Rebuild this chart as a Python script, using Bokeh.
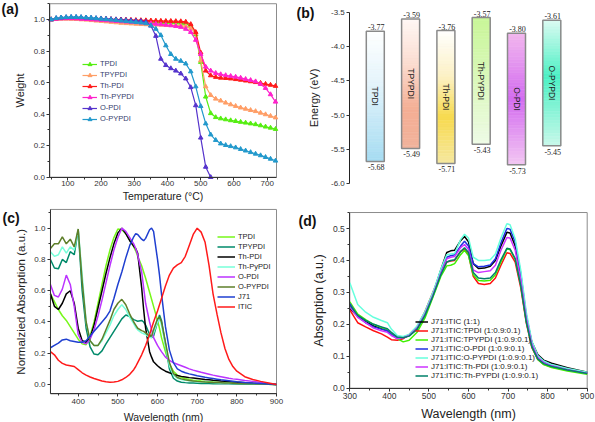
import math
from bokeh.plotting import figure
from bokeh.models import (ColumnDataSource, Legend, LegendItem, LabelSet,
                          SingleIntervalTicker, Range1d, PrintfTickFormatter)
from bokeh.layouts import row, column
from bokeh.embed import file_html
from bokeh.resources import INLINE
from bokeh.core.properties import value

FONT = "Liberation Sans"

# ---------------- (a) TGA data ----------------
tga_temp = [50, 65, 80, 95, 110, 125, 140, 155, 170, 185, 200, 215, 230, 245, 260, 275, 290, 305, 320, 335,
            350, 365, 380, 395, 410, 425, 440, 455, 470, 485, 500, 515, 530, 545, 560, 575, 590, 605, 620, 635,
            650, 665, 680, 695, 710, 725]
tga_names = ["TPDI", "TPYPDI", "Th-PDI", "Th-PYPDI", "O-PDI", "O-PYPDI"]
w_tpdi = [1.000, 1.005, 1.008, 1.010, 1.010, 1.010, 1.010, 1.008, 1.006, 1.005,
          1.003, 1.001, 1.000, 0.998, 0.996, 0.994, 0.992, 0.990, 0.988, 0.986,
          0.985, 0.984, 0.983, 0.982, 0.981, 0.980, 0.978, 0.975, 0.960, 0.905,
          0.730, 0.510, 0.405, 0.380, 0.372, 0.366, 0.360, 0.355, 0.350, 0.345,
          0.340, 0.335, 0.328, 0.320, 0.313, 0.305]
w_tpypdi = [1.000, 1.003, 1.004, 1.004, 1.003, 1.002, 1.000, 0.998, 0.995, 0.992,
            0.990, 0.987, 0.984, 0.981, 0.978, 0.976, 0.974, 0.972, 0.970, 0.969,
            0.968, 0.967, 0.966, 0.965, 0.964, 0.963, 0.962, 0.958, 0.945, 0.915,
            0.740, 0.575, 0.520, 0.497, 0.485, 0.472, 0.461, 0.451, 0.441, 0.433,
            0.425, 0.418, 0.408, 0.398, 0.388, 0.378]
w_thpdi = [1.000, 1.005, 1.008, 1.009, 1.009, 1.008, 1.007, 1.006, 1.005, 1.004,
           1.003, 1.002, 1.001, 1.000, 0.999, 0.998, 0.997, 0.996, 0.995, 0.994,
           0.993, 0.992, 0.991, 0.990, 0.990, 0.989, 0.988, 0.985, 0.970, 0.920,
           0.790, 0.675, 0.645, 0.635, 0.630, 0.628, 0.625, 0.621, 0.617, 0.612,
           0.607, 0.602, 0.597, 0.591, 0.585, 0.578]
w_thpypdi = [1.000, 1.004, 1.006, 1.007, 1.007, 1.006, 1.004, 1.002, 1.000, 0.998,
             0.996, 0.994, 0.992, 0.990, 0.988, 0.986, 0.984, 0.982, 0.980, 0.978,
             0.975, 0.972, 0.969, 0.966, 0.962, 0.958, 0.952, 0.940, 0.920, 0.870,
             0.780, 0.700, 0.675, 0.660, 0.652, 0.646, 0.641, 0.636, 0.630, 0.622,
             0.615, 0.607, 0.590, 0.565, 0.525, 0.478]
w_opdi = [1.000, 1.008, 1.012, 1.014, 1.015, 1.015, 1.014, 1.012, 1.010, 1.008,
          1.006, 1.004, 1.002, 1.000, 0.998, 0.996, 0.994, 0.992, 0.990, 0.985,
          0.960, 0.895, 0.750, 0.710, 0.690, 0.675, 0.657, 0.625, 0.570, 0.455,
          0.250, 0.065, 0.000]
w_opypdi = [1.000, 1.008, 1.012, 1.014, 1.015, 1.015, 1.014, 1.012, 1.010, 1.007,
            1.004, 1.001, 0.998, 0.995, 0.992, 0.989, 0.986, 0.983, 0.980, 0.975,
            0.962, 0.940, 0.900, 0.835, 0.780, 0.750, 0.737, 0.720, 0.670, 0.575,
            0.450, 0.340, 0.270, 0.235, 0.213, 0.203, 0.196, 0.188, 0.178, 0.168,
            0.158, 0.148, 0.138, 0.127, 0.116, 0.104]
tga_series = [w_tpdi, w_tpypdi, w_thpdi, w_thpypdi, w_opdi, w_opypdi]
tga_colors = ["#55ee11", "#ff9e66", "#ff1a1a", "#ff22cc", "#5533cc", "#2299cc"]

# ---------------- (b) energy levels ----------------
acc_names = ["TPDI", "TPYPDI", "Th-PDI", "Th-PYPDI", "O-PDI", "O-PYPDI"]
lumo = [-3.77, -3.59, -3.76, -3.57, -3.80, -3.61]
homo = [-5.68, -5.49, -5.71, -5.43, -5.73, -5.45]
bar_grad = [
    [(0.0, "#ffffff"), (0.4, "#e4f4fb"), (1.0, "#a6dcf2")],
    [(0.0, "#fff8f5"), (0.35, "#fbdcd0"), (0.7, "#f4ae94"), (1.0, "#f1b39c")],
    [(0.0, "#ffffff"), (0.35, "#fcf1c4"), (0.65, "#f7da4e"), (1.0, "#f6e8a0")],
    [(0.0, "#c9f698"), (0.5, "#daf8bc"), (1.0, "#effbe6")],
    [(0.0, "#f2b8ee"), (0.5, "#d36cf0"), (1.0, "#f2c6f2")],
    [(0.0, "#dcfbf2"), (0.45, "#4cf0c4"), (1.0, "#c8f8ea")],
]

# ---------------- (c) normalized absorption ----------------
spec_wl = [330, 340, 350, 360, 370, 380, 390, 400, 410, 420, 430, 440, 450, 460, 470, 480, 490, 500, 510, 520,
           530, 540, 545, 550, 560, 565, 570, 580, 585, 590, 600, 605, 610, 620, 630, 640, 650, 660, 670, 680,
           690, 700, 710, 720, 730, 740, 750, 760, 770, 780, 790, 800, 820, 840, 860, 880, 900]
spec_names = ["TPDI", "TPYPDI", "Th-PDI", "Th-PyPDI", "O-PDI", "O-PYPDI", "J71", "ITIC"]
s_tpdi = [.58, .53, .48, .44, .41, .37, .33, .29, .26, .255,
          .31, .40, .52, .64, .76, .86, .94, .995, .99, .965, .925, .88,
          .855, .82, .76, .72, .68, .59, .545, .50, .41, .36, .30,
          .21, .13, .085, .06, .045, .038, .032, .028, .025, .022, .02, .018, .016, .015, .013, .012, .011, .010, .009,
          .007, .005, .004, .002, .0]
s_tpypdi = [.80, .745, .74, .80, .78, .85, .83, .99, .60, .36,
            .24, .195, .19, .215, .26, .30, .34, .38, .42, .445, .435, .415,
            .41, .405, .41, .40, .38, .32, .30, .31, .40, .445, .41,
            .26, .10, .04, .022, .015, .012, .010, .009, .008, .007, .006, .006, .005, .005, .004, .004, .004, .003, .003,
            .002, .002, .001, .001, .0]
s_thpdi = [.58, .50, .48, .52, .58, .60, .52, .36, .28, .27,
           .30, .38, .49, .60, .71, .81, .90, .97, 1.0, .965, .92, .885,
           .87, .84, .62, .48, .36, .21, .175, .145, .12, .11, .10,
           .085, .075, .066, .058, .052, .048, .044, .041, .038, .035, .032, .03, .027, .025, .022, .02, .018, .016, .015,
           .011, .008, .005, .003, .0]
s_thpypdi = [.85, .82, .83, .88, .84, .88, .86, .99, .70, .40,
             .28, .25, .25, .28, .33, .38, .44, .48, .51, .48, .43, .39,
             .365, .35, .33, .325, .32, .30, .30, .33, .40, .42, .38,
             .25, .12, .06, .04, .032, .027, .024, .021, .019, .017, .015, .014, .012, .011, .010, .009, .008, .007, .006,
             .005, .004, .003, .002, .0]
s_opdi = [.64, .57, .56, .61, .70, .64, .50, .32, .27, .26,
          .29, .35, .44, .54, .65, .76, .86, .94, 1.0, .98, .94, .90,
          .87, .83, .72, .62, .52, .40, .35, .30, .25, .23, .21,
          .175, .155, .14, .13, .12, .11, .10, .092, .085, .078, .072, .066, .06, .055, .05, .045, .04, .036, .033,
          .026, .02, .013, .007, .0]
s_opypdi = [.87, .90, .90, .945, .90, .93, .88, .995, .66, .40,
            .28, .25, .25, .29, .35, .41, .48, .52, .545, .51, .45, .40,
            .38, .36, .345, .34, .33, .31, .31, .35, .42, .43, .40,
            .27, .14, .07, .045, .036, .03, .026, .023, .02, .018, .016, .015, .013, .012, .011, .01, .009, .008, .007,
            .005, .004, .003, .002, .0]
s_j71 = [.235, .25, .265, .285, .29, .28, .275, .27, .27, .28,
         .31, .34, .37, .40, .43, .47, .55, .64, .72, .81, .89, .945,
         .965, .96, .93, .92, .935, .99, 1.0, .98, .80, .70, .58,
         .37, .22, .14, .10, .085, .075, .068, .062, .056, .051, .046, .042, .038, .034, .03, .027, .024, .021, .018,
         .013, .009, .006, .003, .0]
s_itic = [.21, .19, .155, .135, .125, .12, .115, .095, .075, .06,
          .048, .038, .03, .022, .017, .015, .016, .02, .03, .045, .065, .095,
          .115, .14, .19, .22, .25, .32, .36, .40, .47, .51, .55,
          .63, .70, .745, .765, .78, .82, .89, .96, 1.0, .975, .91, .76, .58, .45, .33, .23, .16, .115, .085,
          .05, .032, .02, .01, .0]
spec_series = [s_tpdi, s_tpypdi, s_thpdi, s_thpypdi, s_opdi, s_opypdi, s_j71, s_itic]
spec_colors = ["#77f71a", "#008a6a", "#000000", "#77ffd9", "#bb33ff", "#5e7f2a", "#1f3fd0", "#ff1a1a"]

# ---------------- (d) blend absorption ----------------
abs_wl = [300, 320, 340, 360, 380, 395, 405, 420, 435, 450, 470, 490, 510, 530, 545, 555, 565, 580, 590, 600,
          612, 625, 640, 655, 668, 682, 697, 705, 718, 732, 746, 760, 775, 790, 810, 850, 900]
blend_names = ["J71:ITIC (1:1)", "J71:ITIC:TPDI (1:0.9:0.1)", "J71:ITIC:TPYPDI (1:0.9:0.1)",
               "J71:ITIC:O-PDI (1:0.9:0.1)", "J71:ITIC:O-PYPDI (1:0.9:0.1)",
               "J71:ITIC:Th-PDI (1:0.9:0.1)", "J71:ITIC:Th-PYPDI (1:0.9:0.1)"]
a_ref = [.250, .225, .208, .195, .186, .180, .168, .156, .158, .165, .185, .230, .295, .370, .425, .430, .432, .462, .475, .458,
         .390, .375, .376, .382, .400, .445, .488, .486, .445, .350, .225, .145, .105, .088, .078, .064, .050]
a_tpdi = [.245, .205, .192, .180, .170, .160, .152, .150, .155, .168, .192, .240, .300, .360, .395, .398, .400, .428, .435, .418,
          .350, .328, .325, .328, .345, .385, .424, .422, .395, .315, .205, .128, .090, .075, .066, .056, .046]
a_tpypdi = [.270, .232, .215, .200, .190, .182, .170, .155, .145, .150, .175, .220, .285, .350, .383, .385, .390, .418, .432, .415,
            .355, .337, .336, .338, .355, .395, .436, .434, .405, .325, .210, .130, .090, .074, .065, .054, .044]
a_opdi = [.265, .225, .205, .192, .185, .180, .168, .158, .160, .167, .190, .235, .295, .365, .410, .415, .418, .445, .460, .445,
          .390, .380, .382, .386, .405, .455, .500, .498, .458, .360, .230, .142, .100, .082, .072, .060, .048]
a_opypdi = [.330, .262, .238, .222, .212, .205, .185, .165, .162, .168, .195, .240, .300, .372, .418, .420, .422, .465, .482, .470,
            .410, .400, .400, .402, .420, .470, .515, .512, .468, .370, .238, .148, .102, .085, .074, .062, .050]
a_thpdi = [.255, .222, .205, .188, .180, .175, .165, .155, .158, .165, .188, .232, .292, .360, .405, .410, .412, .440, .450, .435,
           .370, .362, .365, .368, .385, .432, .472, .470, .432, .340, .220, .138, .097, .080, .070, .058, .047]
a_thpypdi = [.260, .228, .212, .200, .192, .186, .175, .160, .158, .163, .185, .228, .288, .355, .395, .400, .402, .428, .440, .425,
             .362, .345, .343, .345, .362, .402, .438, .436, .405, .322, .208, .130, .092, .077, .068, .057, .046]
blend_series = [a_ref, a_tpdi, a_tpypdi, a_opdi, a_opypdi, a_thpdi, a_thpypdi]
blend_colors = ["#000000", "#ff1010", "#3ff000", "#1f2fe0", "#66ffdd", "#cc33ff", "#00806a"]


class Geom:
    """Maps canvas pixels (from top-left) of one panel to data values."""

    def __init__(self, cw, ch, xa, pxa, xb, pxb, ya, pya, yb, pyb):
        self.cw, self.ch = cw, ch
        self.xa, self.pxa, self.sx = xa, pxa, (pxb - pxa) / (xb - xa)
        self.ya, self.pya, self.sy = ya, pya, (pyb - pya) / (yb - ya)

    def x(self, px):
        return self.xa + (px - self.pxa) / self.sx

    def y(self, py):
        return self.ya + (py - self.pya) / self.sy

    def xr(self):
        return Range1d(self.x(0), self.x(self.cw))

    def yr(self):
        return Range1d(self.y(self.ch), self.y(0))


def make_fig(g, **kw):
    p = figure(width=g.cw, height=g.ch, output_backend="svg", toolbar_location=None,
               x_range=g.xr(), y_range=g.yr(), min_border=0,
               min_border_left=0, min_border_right=0, min_border_top=0, min_border_bottom=0, **kw)
    p.xgrid.visible = False
    p.ygrid.visible = False
    p.outline_line_color = None
    return p


def style_axes(p, tick_px, title_px):
    for ax in list(p.xaxis) + list(p.yaxis):
        ax.axis_label_text_font = FONT
        ax.axis_label_text_font_style = "normal"
        ax.axis_label_text_font_size = f"{title_px}px"
        ax.axis_label_text_color = "#222222"
        ax.major_label_text_font = FONT
        ax.major_label_text_font_size = f"{tick_px}px"
        ax.major_label_text_color = "#333333"
        ax.major_tick_in = 0
        ax.major_tick_out = 3
        ax.minor_tick_in = 0
        ax.minor_tick_out = 2
        ax.axis_line_color = "#333333"
        ax.major_tick_line_color = "#333333"
        ax.minor_tick_line_color = "#333333"
        ax.major_label_standoff = 2
        ax.axis_label_standoff = 4


def box(p, x0, x1, y0, y1):
    p.quad(left=[x0], right=[x1], bottom=[y0], top=[y1], fill_color=None,
           line_color="#8c8c8c", line_width=1)


def panel_label(p, g, text, px, py):
    p.text(x=[g.x(px)], y=[g.y(py)], text=[text], text_align="left", text_baseline="middle",
           text_font=value(FONT), text_font_style="bold", text_font_size="14px", text_color="#111111")


def make_legend(items, loc, font_px, gw, gh, lh, color="#222222"):
    return Legend(items=items, location=loc, label_text_font=FONT, label_text_font_size=f"{font_px}px",
                  label_text_color=color, glyph_width=gw, glyph_height=gh, label_height=lh,
                  label_standoff=3, spacing=0, padding=0, margin=0,
                  background_fill_alpha=0, border_line_color=None)


# ---------------- panel (a) ----------------
ga = Geom(296, 205, 100, 67.3, 700, 266.7, 1.0, 19.0, 0.0, 176.7)
A_X, A_Y = (46, 728), (0, 1.1)
pa = make_fig(ga)
box(pa, A_X[0], A_X[1], A_Y[0], A_Y[1])
style_axes(pa, 8, 11)
pa.xaxis.axis_label_text_font_size = "10.5px"
pa.xaxis.major_label_standoff = 1
pa.xaxis.axis_label_standoff = 0
pa.xaxis.fixed_location = A_Y[0]
pa.yaxis.fixed_location = A_X[0]
pa.xaxis.bounds = A_X
pa.yaxis.bounds = A_Y
pa.xaxis.ticker = SingleIntervalTicker(interval=100, num_minor_ticks=2)
pa.yaxis.ticker = SingleIntervalTicker(interval=0.2, num_minor_ticks=2)
pa.yaxis.formatter = PrintfTickFormatter(format="%.1f")
pa.xaxis.axis_label = "Temperature (\u00b0C)"
pa.yaxis.axis_label = "Weight"
items_a = []
for name, ys, col in zip(tga_names, tga_series, tga_colors):
    xs = tga_temp[:len(ys)]
    r1 = pa.line(xs, ys, line_color=col, line_width=1.2)
    r2 = pa.scatter(xs, ys, marker="triangle", size=4.5, fill_color=col, line_color=col)
    items_a.append(LegendItem(label=name, renderers=[r1, r2]))
pa.add_layout(make_legend(items_a, (82, 81), 7.5, 15, 10, 11, color="#34406e"))
panel_label(pa, ga, "(a)", 1, 8)

# ---------------- panel (b) ----------------
gb_ = Geom(299, 205, 1, 78.8, 6, 255.3, -3.5, 12.3, -6.0, 182.7)
pb = make_fig(gb_, x_axis_location=None)
style_axes(pb, 8, 11)
pb.yaxis.fixed_location = gb_.x(53.3)
pb.yaxis.bounds = (-6.0, -3.5)
pb.yaxis.ticker = SingleIntervalTicker(interval=0.5, num_minor_ticks=0)
pb.yaxis.formatter = PrintfTickFormatter(format="%.1f")
pb.yaxis.axis_label = "Energy (eV)"
pb.yaxis.axis_label_standoff = 8
pb.yaxis.axis_line_color = "#222222"
pos = [i + 1 for i in range(len(acc_names))]
half = 0.255
N = 40


def hex2rgb(h):
    return tuple(int(h[i:i + 2], 16) for i in (1, 3, 5))


def grad_color(stops, t):
    for (t0, c0), (t1, c1) in zip(stops[:-1], stops[1:]):
        if t <= t1:
            f = (t - t0) / (t1 - t0) if t1 > t0 else 0
            a, b = hex2rgb(c0), hex2rgb(c1)
            return "#%02x%02x%02x" % tuple(round(a[k] + (b[k] - a[k]) * f) for k in range(3))
    return stops[-1][1]


gl, gr, gt, gbm, gc = [], [], [], [], []
for x, lo, hi, stops in zip(pos, lumo, homo, bar_grad):
    for k in range(N):
        t0, t1 = k / N, (k + 1) / N
        gl.append(x - half)
        gr.append(x + half)
        gt.append(lo + (hi - lo) * t0)
        gbm.append(lo + (hi - lo) * t1)
        gc.append(grad_color(stops, (t0 + t1) / 2))
pb.quad(left=gl, right=gr, top=gt, bottom=gbm, fill_color=gc, line_color=gc, line_width=0.6)
pb.quad(left=[x - half for x in pos], right=[x + half for x in pos], top=lumo, bottom=homo,
        fill_color=None, line_color="#8a8a8a", line_width=1.5)
pb.text(x=pos, y=[(a + b) / 2 for a, b in zip(lumo, homo)], text=acc_names, angle=-math.pi / 2,
        text_align="center", text_baseline="middle", text_font=value(FONT), text_font_size="8.5px",
        text_color="#222222")
top_src = ColumnDataSource(dict(x=pos, y=lumo, t=[f"{v:.2f}" for v in lumo]))
bot_src = ColumnDataSource(dict(x=pos, y=homo, t=[f"{v:.2f}" for v in homo]))
pb.add_layout(LabelSet(x="x", y="y", text="t", source=top_src, text_align="center", text_baseline="bottom",
                       y_offset=1, x_offset=1, text_font=FONT, text_font_size="8px", text_color="#222222"))
pb.add_layout(LabelSet(x="x", y="y", text="t", source=bot_src, text_align="center", text_baseline="top",
                       y_offset=-3, x_offset=1, text_font=FONT, text_font_size="8px", text_color="#222222"))
panel_label(pb, gb_, "(b)", 0, 12.5)

# ---------------- panel (c) ----------------
gcv = Geom(296, 217, 400, 77.7, 900, 276.0, 1.0, 22.7, 0.0, 179.0)
C_X, C_Y = (330, 900), (-0.06, 1.12)
pc = make_fig(gcv)
box(pc, C_X[0], C_X[1], C_Y[0], C_Y[1])
style_axes(pc, 8, 10.5)
pc.yaxis.axis_label_text_font_size = "11.5px"
pc.xaxis.fixed_location = C_Y[0]
pc.yaxis.fixed_location = C_X[0]
pc.xaxis.bounds = C_X
pc.yaxis.bounds = C_Y
pc.xaxis.ticker = SingleIntervalTicker(interval=100, num_minor_ticks=2)
pc.yaxis.ticker = SingleIntervalTicker(interval=0.2, num_minor_ticks=2)
pc.yaxis.formatter = PrintfTickFormatter(format="%.1f")
pc.xaxis.axis_label = "Wavelength (nm)"
pc.yaxis.axis_label = "Normalzied Absorption (a.u.)"
items_c = []
for name, ys, col in zip(spec_names, spec_series, spec_colors):
    r = pc.line(spec_wl, ys, line_color=col, line_width=1.5)
    items_c.append(LegendItem(label=name, renderers=[r]))
pc.add_layout(make_legend(items_c, (217, 111), 7.5, 18, 9, 10))
panel_label(pc, gcv, "(c)", 2, 12.5)

# ---------------- panel (d) ----------------
gd = Geom(299, 217, 300, 53.3, 900, 290.7, 0.5, 23.0, 0.0, 182.7)
D_X, D_Y = (300, 900), (0, 0.55)
pd_ = make_fig(gd)
box(pd_, D_X[0], D_X[1], D_Y[0], D_Y[1])
style_axes(pd_, 8.5, 12.5)
pd_.xaxis.fixed_location = D_Y[0]
pd_.yaxis.fixed_location = D_X[0]
pd_.xaxis.bounds = D_X
pd_.yaxis.bounds = D_Y
pd_.xaxis.ticker = SingleIntervalTicker(interval=100, num_minor_ticks=2)
pd_.yaxis.ticker = SingleIntervalTicker(interval=0.1, num_minor_ticks=2)
pd_.yaxis.formatter = PrintfTickFormatter(format="%.1f")
pd_.xaxis.axis_label = "Wavelength (nm)"
pd_.yaxis.axis_label = "Absorption (a.u.)"
items_d = []
for name, ys, col in zip(blend_names, blend_series, blend_colors):
    r = pd_.line(abs_wl, ys, line_color=col, line_width=1.5)
    items_d.append(LegendItem(label=name, renderers=[r]))
pd_.add_layout(make_legend(items_d, (119, 42), 8, 13, 9, 9))
panel_label(pd_, gd, "(d)", 2, 15.8)

layout = column(row(pa, pb), row(pc, pd_))
open("out.html", "w").write(file_html(layout, INLINE))
